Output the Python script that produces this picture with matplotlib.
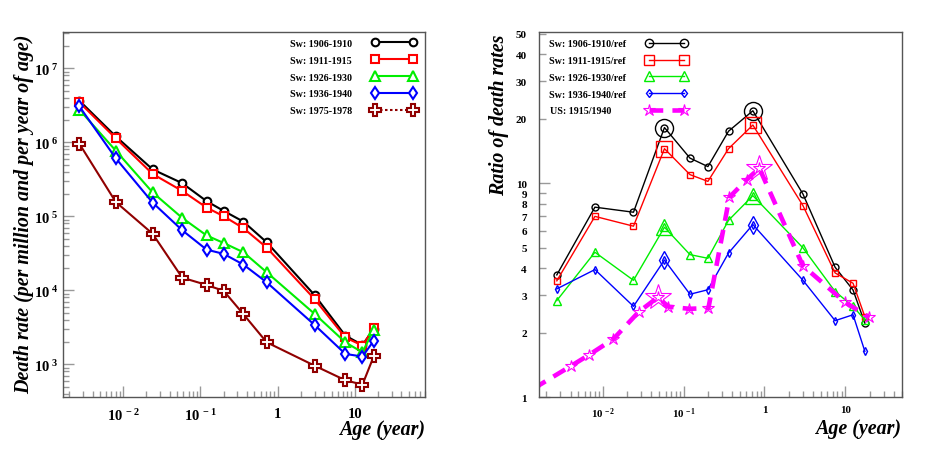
import matplotlib
matplotlib.use('Agg')
import matplotlib.pyplot as plt
from matplotlib.lines import Line2D
from matplotlib.ticker import FixedLocator, FixedFormatter, LogLocator, NullFormatter
import numpy as np

# ---------------- data ----------------
ages = [0.0027, 0.008, 0.024, 0.058, 0.12, 0.2, 0.36, 0.72, 3.0, 7.5, 12.5, 17.5]

rate_1906 = [3.65e6, 1.2e6, 4.3e5, 2.8e5, 1.6e5, 1.18e5, 8.45e4, 4.45e4, 8.6e3, 2.44e3, 1.82e3, 3.0e3]
rate_1911 = [3.47e6, 1.13e6, 3.73e5, 2.2e5, 1.31e5, 1.0e5, 6.9e4, 3.77e4, 7.6e3, 2.3e3, 1.79e3, 3.07e3]
rate_1926 = [2.76e6, 7.7e5, 2.1e5, 9.5e4, 5.5e4, 4.35e4, 3.26e4, 1.75e4, 4.8e3, 1.98e3, 1.45e3, 2.94e3]
rate_1936 = [3.06e6, 6.08e5, 1.53e5, 6.47e4, 3.54e4, 3.1e4, 2.22e4, 1.28e4, 3.4e3, 1.38e3, 1.27e3, 2.08e3]
rate_1975 = [9.57e5, 1.56e5, 5.8e4, 1.48e4, 1.18e4, 9.8e3, 4.74e3, 1.98e3, 957, 608, 530, 1.28e3]

ratio_1906 = [3.73, 7.73, 7.32, 18.2, 13.1, 11.96, 17.5, 21.8, 8.9, 4.05, 3.17, 2.22]
ratio_1911 = [3.5, 7.0, 6.3, 14.5, 10.97, 10.2, 14.5, 18.7, 7.86, 3.81, 3.41, 2.38]
ratio_1926 = [2.83, 4.76, 3.52, 6.23, 4.64, 4.46, 6.71, 8.75, 4.99, 3.12, 2.66, 2.30]
ratio_1936 = [3.21, 3.95, 2.66, 4.38, 3.03, 3.18, 4.72, 6.41, 3.52, 2.28, 2.43, 1.64]
peak_idx = [3, 7]

us_ages = [0.0014, 0.0041, 0.0068, 0.0135, 0.028, 0.048, 0.065, 0.118, 0.203,
           0.369, 0.605, 0.867, 2.99, 9.97, 19.9]
us_ratio = [1.1, 1.405, 1.58, 1.87, 2.51, 2.93, 2.65, 2.59, 2.61,
            8.6, 10.4, 11.75, 4.12, 2.78, 2.36]
us_peak_idx = [5, 11]

left_labels = ['Sw: 1906-1910', 'Sw: 1911-1915', 'Sw: 1926-1930', 'Sw: 1936-1940', 'Sw: 1975-1978']
right_labels = ['Sw: 1906-1910/ref', 'Sw: 1911-1915/ref', 'Sw: 1926-1930/ref',
                'Sw: 1936-1940/ref', 'US: 1915/1940      ']

x_major = [1e-2, 1e-1, 1, 10]
x_left_ticklabels = [r'$10^{\ -2}$', r'$10^{\ -1}$', '1', '10']
x_right_ticklabels = [r'$10^{\,-2}$', r'$10^{\,-1}$', '1', '10']
y_left_major = [1e3, 1e4, 1e5, 1e6, 1e7]
y_left_ticklabels = [r'$10^{\ 3}$', r'$10^{\ 4}$', r'$10^{\ 5}$', r'$10^{\ 6}$', r'$10^{\ 7}$']
y_right_major = [1, 10]
y_right_major_labels = ['1', '10']
y_right_minor = [2, 3, 4, 5, 6, 7, 8, 9, 20, 30, 40, 50]
y_right_minor_labels = ['2', '3', '4', '5', '6', '7', '8', '9', '20', '30', '40', '50']

# ---------------- style ----------------
plt.rcParams['font.family'] = ['Liberation Serif', 'DejaVu Serif']
plt.rcParams['font.weight'] = 'bold'
plt.rcParams['mathtext.fontset'] = 'custom'
plt.rcParams['mathtext.rm'] = 'Liberation Serif:bold'
plt.rcParams['mathtext.bf'] = 'Liberation Serif:bold'
plt.rcParams['mathtext.it'] = 'Liberation Serif:bold:italic'
plt.rcParams['mathtext.default'] = 'rm'

BLACK, RED, GREEN, BLUE, BROWN, MAG = 'black', '#ff0000', '#00ee00', '#0000ff', '#900000', '#ff00ff'

fig = plt.figure(figsize=(9.26, 4.52), dpi=100)
ax1 = fig.add_axes([63 / 926, 1 - 398 / 452, 362 / 926, 365 / 452])
ax2 = fig.add_axes([539.3 / 926, 1 - 398.3 / 452, 362.4 / 926, 365 / 452])


def style(ax, xlim, ylim):
    ax.set_xscale('log')
    ax.set_yscale('log')
    ax.set_xlim(*xlim)
    ax.set_ylim(*ylim)
    for s in ax.spines.values():
        s.set_color('#555555')
        s.set_linewidth(1.0)
    ax.tick_params(which='both', direction='in', top=False, right=False, color='#999999')
    ax.tick_params(which='major', length=8, width=1)
    ax.tick_params(which='minor', length=4, width=1)
    ax.xaxis.set_major_locator(FixedLocator(x_major))
    ax.xaxis.set_minor_locator(LogLocator(base=10, subs=np.arange(2, 10), numticks=50))
    ax.xaxis.set_minor_formatter(NullFormatter())


# ---------------- left panel ----------------
style(ax1, (0.00166, 80.7), (361, 3.09e7))
ax1.xaxis.set_major_formatter(FixedFormatter(x_left_ticklabels))
ax1.yaxis.set_major_locator(FixedLocator(y_left_major))
ax1.yaxis.set_major_formatter(FixedFormatter(y_left_ticklabels))
ax1.yaxis.set_minor_locator(LogLocator(base=10, subs=np.arange(2, 10), numticks=50))
ax1.yaxis.set_minor_formatter(NullFormatter())
ax1.tick_params(axis='x', which='major', labelsize=10.5, pad=7.5)
ax1.tick_params(axis='y', which='major', labelsize=10.5, pad=3.5)
for lab in ax1.get_yticklabels():
    lab.set_verticalalignment('center_baseline')

lw1, mew1 = 1.5, 1.5
ax1.plot(ages, rate_1906, color=BLACK, lw=lw1, marker='o', ms=5.5, mfc='white', mew=mew1)
ax1.plot(ages, rate_1911, color=RED, lw=lw1, marker='s', ms=6.2, mfc='white', mew=mew1)
ax1.plot(ages, rate_1926, color=GREEN, lw=lw1, marker='^', ms=6.7, mfc='white', mew=mew1)
ax1.plot(ages, rate_1936, color=BLUE, lw=lw1, marker='d', ms=6.0, mfc='white', mew=mew1)
ax1.plot(ages, rate_1975, color=BROWN, lw=lw1, marker='P', ms=9, mfc='white', mew=mew1)

h_left = [
    Line2D([], [], color=BLACK, lw=lw1, marker='o', ms=5.5, mfc='white', mew=mew1),
    Line2D([], [], color=RED, lw=lw1, marker='s', ms=6.2, mfc='white', mew=mew1),
    Line2D([], [], color=GREEN, lw=lw1, marker='^', ms=6.7, mfc='white', mew=mew1),
    Line2D([], [], color=BLUE, lw=lw1, marker='d', ms=6.0, mfc='white', mew=mew1),
    Line2D([], [], color=BROWN, lw=lw1, ls=(0, (1.2, 1.2)), marker='P', ms=9, mfc='white', mew=mew1),
]
ax1.legend(h_left, left_labels, loc='upper right', bbox_to_anchor=(0.975, 0.981), frameon=False,
           markerfirst=False, numpoints=2, handlelength=4.4, handletextpad=2.0,
           labelspacing=0.78, borderpad=0, borderaxespad=0,
           prop={'family': 'Liberation Serif', 'weight': 'bold', 'size': 7.2})

# ---------------- right panel ----------------
style(ax2, (0.00164, 50), (1, 50.7))
ax2.xaxis.set_major_formatter(FixedFormatter(x_right_ticklabels))
ax2.yaxis.set_major_locator(FixedLocator(y_right_major))
ax2.yaxis.set_major_formatter(FixedFormatter(y_right_major_labels))
ax2.yaxis.set_minor_locator(FixedLocator(y_right_minor))
ax2.yaxis.set_minor_formatter(FixedFormatter(y_right_minor_labels))
ax2.tick_params(axis='x', which='major', labelsize=7.8, pad=5.5)
ax2.tick_params(axis='y', which='both', labelsize=8, pad=9)
ax2.tick_params(axis='y', which='minor', length=5)

lw2, mew2 = 1.0, 1.0
pk = lambda arr, idx: [arr[i] for i in idx]

ax2.plot(ages, ratio_1906, color=BLACK, lw=lw2, marker='o', ms=5, mfc='none', mew=mew2)
ax2.plot(pk(ages, peak_idx), pk(ratio_1906, peak_idx), ls='none', color=BLACK, marker='o', ms=13, mfc='none', mew=mew2)
ax2.plot(ages, ratio_1911, color=RED, lw=lw2, marker='s', ms=5, mfc='none', mew=mew2)
ax2.plot(pk(ages, peak_idx), pk(ratio_1911, peak_idx), ls='none', color=RED, marker='s', ms=12, mfc='none', mew=mew2)
ax2.plot(ages, ratio_1926, color=GREEN, lw=lw2, marker='^', ms=5.5, mfc='none', mew=mew2)
ax2.plot(pk(ages, peak_idx), pk(ratio_1926, peak_idx), ls='none', color=GREEN, marker='^', ms=12, mfc='none', mew=mew2)
ax2.plot(ages, ratio_1936, color=BLUE, lw=lw2, marker='d', ms=3.6, mfc='none', mew=mew2)
ax2.plot(pk(ages, peak_idx), pk(ratio_1936, peak_idx), ls='none', color=BLUE, marker='d', ms=9, mfc='none', mew=mew2)
ax2.plot(us_ages, us_ratio, color=MAG, lw=3.3, ls=(0, (3, 2)), marker='*', ms=9, mfc='none',
         mew=0.8, dash_capstyle='butt')
ax2.plot(pk(us_ages, us_peak_idx), pk(us_ratio, us_peak_idx), ls='none', color=MAG, marker='*', ms=19,
         mfc='none', mew=0.8)

h_right = [
    Line2D([], [], color=BLACK, lw=lw2, marker='o', ms=6, mfc='none', mew=mew2),
    Line2D([], [], color=RED, lw=lw2, marker='s', ms=6.5, mfc='none', mew=mew2),
    Line2D([], [], color=GREEN, lw=lw2, marker='^', ms=6.5, mfc='none', mew=mew2),
    Line2D([], [], color=BLUE, lw=lw2, marker='d', ms=4.5, mfc='none', mew=mew2),
    Line2D([], [], color=MAG, lw=3.3, ls=(0, (3, 2)), marker='*', ms=9, mfc='none', mew=0.8),
]
ax2.legend(h_right, right_labels, loc='upper right', bbox_to_anchor=(0.4076, 0.981), frameon=False,
           markerfirst=False, numpoints=2, handlelength=4.1, handletextpad=2.0,
           labelspacing=0.78, borderpad=0, borderaxespad=0,
           prop={'family': 'Liberation Serif', 'weight': 'bold', 'size': 7.2})

# ---------------- axis titles ----------------
tfont = dict(family='Liberation Serif', fontsize=14.4, fontstyle='italic', fontweight='bold')
fig.text(24 / 926, 1 - 35 / 452, 'Death rate (per million and per year of age)', rotation=90,
         ha='center', va='top', **tfont)
fig.text(425 / 926, 1 - 430 / 452, 'Age (year)', ha='right', va='center', **tfont)
fig.text(499 / 926, 1 - 35 / 452, 'Ratio of death rates', rotation=90, ha='center', va='top', **tfont)
fig.text(901 / 926, 1 - 429 / 452, 'Age (year)', ha='right', va='center', **tfont)

fig.savefig('out.png', dpi=100)
